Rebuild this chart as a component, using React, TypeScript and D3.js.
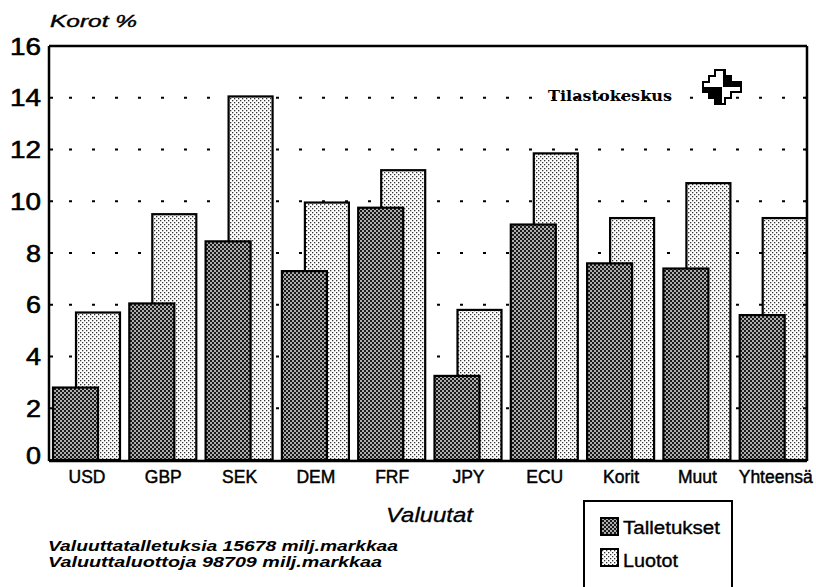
import React from "react";
import * as d3 from "d3";

const categories = ["USD", "GBP", "SEK", "DEM", "FRF", "JPY", "ECU", "Korit", "Muut", "Yhteensä"];
const talletukset = [2.8, 6.05, 8.45, 7.3, 9.75, 3.25, 9.1, 7.6, 7.4, 5.6];
const luotot = [5.7, 9.5, 14.05, 9.95, 11.2, 5.8, 11.85, 9.35, 10.7, 9.35];
const yTicks = [0, 2, 4, 6, 8, 10, 12, 14, 16];
const gridTicks = [2, 4, 6, 8, 10, 12, 14];
const seriesNames = ["Talletukset", "Luotot"];
const footnotes = ["Valuuttatalletuksia 15678 milj.markkaa", "Valuuttaluottoja 98709 milj.markkaa"];

const W = 816;
const H = 587;
const left = 49;
const right = 807;
const top = 46;
const bottom = 460;

export default function App() {
  const x = d3.scaleBand<string>().domain(categories).range([left, 812]).padding(0);
  const y = d3.scaleLinear().domain([0, 16]).range([bottom, top]);
  const font = "'Liberation Sans', Arial, Helvetica, sans-serif";

  return (
    <svg width={W} height={H} style={{ position: "absolute", left: 0, top: 0, background: "#fff" }}>
      <defs>
        <pattern id="dark" width="4" height="4" patternUnits="userSpaceOnUse">
          <rect width="4" height="4" fill="#1a1a1a" />
          <rect x="0.2" y="0.2" width="1.6" height="1.6" fill="#fff" />
          <rect x="2.2" y="2.2" width="1.6" height="1.6" fill="#fff" />
        </pattern>
        <pattern id="light" width="4" height="4" patternUnits="userSpaceOnUse">
          <rect width="4" height="4" fill="#fff" />
          <rect x="0" y="0" width="1.3" height="1.3" fill="#333" />
          <rect x="2" y="2" width="1.3" height="1.3" fill="#333" />
        </pattern>
      </defs>
      <rect width={W} height={H} fill="#fff" />

      {/* grid */}
      {gridTicks.map((t) => (
        <line key={"g" + t} x1={left + 20} x2={right} y1={y(t)} y2={y(t)} stroke="#000" strokeWidth={2.2} strokeDasharray="3 20" />
      ))}

      {/* logo */}
      <text x={548} y={101} fontFamily="'DejaVu Serif', serif" fontWeight="bold" fontSize={14} fill="#000" textLength={124} lengthAdjust="spacingAndGlyphs">
        Tilastokeskus
      </text>
      <g transform="translate(703,70)">
        <path d="M12,0 H22 V6 H28 V12 H38 V22 H28 V28 H22 V34 H12 V28 H6 V22 H0 V12 H6 V6 H12 Z" fill="#fff" stroke="#000" strokeWidth={2} />
        <path d="M20,0 H22 V6 H28 V12 H38 V17 H20 Z" fill="#000" />
        <path d="M0,17 H19 V34 H12 V28 H6 V22 H0 Z" fill="#000" />
      </g>

      {/* bars */}
      {categories.map((c, i) => (
        <g key={c}>
          <rect x={(x(c) as number) + 27} y={y(luotot[i])} width={44} height={bottom - y(luotot[i])} fill="url(#light)" stroke="#000" strokeWidth={2.2} />
          <rect x={(x(c) as number) + 4} y={y(talletukset[i])} width={45} height={bottom - y(talletukset[i])} fill="url(#dark)" stroke="#000" strokeWidth={2.2} />
        </g>
      ))}

      {/* frame */}
      <line x1={left} x2={right} y1={top} y2={top} stroke="#000" strokeWidth={2.5} />
      <line x1={left} x2={left} y1={top} y2={bottom + 1} stroke="#000" strokeWidth={2.5} />
      <line x1={right} x2={right} y1={top} y2={bottom + 1} stroke="#000" strokeWidth={2.5} />
      <line x1={left} x2={right} y1={bottom + 1} y2={bottom + 1} stroke="#000" strokeWidth={2.5} />
      {yTicks.map((t) => (
        <g key={"t" + t}>
          <line x1={left} x2={left + 4} y1={y(t)} y2={y(t)} stroke="#000" strokeWidth={2} />
          <line x1={right - 4} x2={right} y1={y(t)} y2={y(t)} stroke="#000" strokeWidth={2} />
        </g>
      ))}

      {/* y labels */}
      {yTicks.map((t) => (
        <text key={"yl" + t} x={41} y={y(t) - (t === 0 ? 5 : 0)} dy="0.36em" textAnchor="end" fontFamily={font} fontSize={24} fill="#000" stroke="#000" strokeWidth={0.6} textLength={t >= 10 ? 31 : 15} lengthAdjust="spacingAndGlyphs">
          {t}
        </text>
      ))}
      <text x={50} y={27} fontFamily={font} fontStyle="italic" fontSize={17} fill="#000" stroke="#000" strokeWidth={0.4} textLength={87} lengthAdjust="spacingAndGlyphs">
        Korot %
      </text>

      {/* x labels */}
      {categories.map((c) => (
        <text key={"xl" + c} x={(x(c) as number) + 38 + (c === "Yhteensä" ? 2 : 0)} y={483} textAnchor="middle" fontFamily={font} fontSize={17.5} fill="#000" stroke="#000" strokeWidth={0.45}>
          {c}
        </text>
      ))}
      <text x={386} y={522} fontFamily={font} fontStyle="italic" fontSize={20} fill="#000" stroke="#000" strokeWidth={0.3} textLength={87} lengthAdjust="spacingAndGlyphs">
        Valuutat
      </text>

      {/* footnotes */}
      {footnotes.map((f, i) => (
        <text key={f} x={48} y={551 + i * 15.5} fontFamily={font} fontStyle="italic" fontWeight="bold" fontSize={15} fill="#000" textLength={i === 0 ? 350 : 334} lengthAdjust="spacingAndGlyphs">
          {f}
        </text>
      ))}

      {/* legend */}
      <rect x={584} y={501} width={148} height={100} fill="#fff" stroke="#000" strokeWidth={2} />
      {seriesNames.map((s, i) => (
        <g key={s}>
          <rect x={601} y={518 + i * 31} width={17} height={17} fill={i === 0 ? "url(#dark)" : "url(#light)"} stroke="#000" strokeWidth={2} />
          <text x={623} y={534 + i * 33} fontFamily={font} fontSize={18} fill="#000" stroke="#000" strokeWidth={0.35} textLength={i === 0 ? 97 : 55} lengthAdjust="spacingAndGlyphs">
            {s}
          </text>
        </g>
      ))}
    </svg>
  );
}
